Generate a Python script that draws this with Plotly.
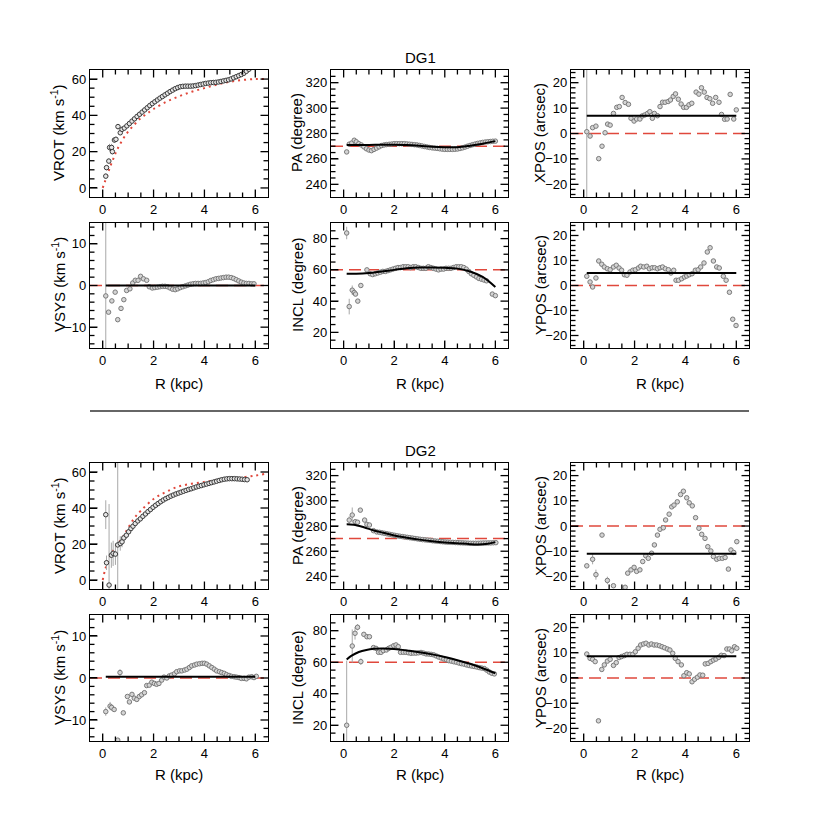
import plotly.graph_objects as go

# ---------------- DG1 ----------------
r_vrot1 = [0.12, 0.15, 0.24, 0.27, 0.35, 0.38, 0.46, 0.52, 0.60, 0.69, 0.76,
           0.85, 0.95, 1.05, 1.15, 1.25, 1.35, 1.45, 1.55, 1.65, 1.75, 1.85, 1.95,
           2.05, 2.15, 2.25, 2.35, 2.45, 2.55, 2.65, 2.75, 2.85, 2.95, 3.05, 3.15,
           3.25, 3.35, 3.45, 3.55, 3.65, 3.75, 3.85, 3.95, 4.05, 4.15, 4.25, 4.35,
           4.45, 4.55, 4.65, 4.75, 4.85, 4.95, 5.05, 5.15, 5.25, 5.35, 5.45, 5.55,
           5.65, 5.75, 5.85, 5.95]
v_vrot1 = [6.5, 11.2, 14.8, 22.3, 22.3, 20.0, 26.4, 26.8, 33.8, 30.4, 32.3,
           33.0, 34.2, 35.5, 36.8, 38.1, 39.4, 40.6, 41.8, 43.0, 44.2, 45.4, 46.5,
           47.5, 48.5, 49.5, 50.4, 51.3, 52.2, 53.1, 53.9, 54.7, 55.3, 55.8, 56.0,
           56.1, 56.1, 56.1, 56.2, 56.4, 56.7, 57.0, 57.3, 57.6, 57.8, 58.0, 58.1,
           58.2, 58.4, 58.7, 59.0, 59.3, 59.6, 60.1, 60.7, 61.3, 61.9, 62.5, 63.2,
           64.3, 65.4, 66.5, 67.5]
e_vrot1 = [1.5, 1.5, 1.5, 2.0, 2.0, 1.5, 1.5, 1.5, 1.5, 1.0, 1.0]
r_model1 = [0, 0.1, 0.2, 0.3, 0.4, 0.5, 0.6, 0.8, 1.0, 1.25, 1.5, 1.75, 2.0,
            2.5, 3.0, 3.5, 4.0, 4.5, 5.0, 5.5, 6.0, 6.4]
v_model1 = [0, 4, 8, 12, 15.5, 19, 22, 27, 31, 35, 38.5, 41, 43.5,
            47.5, 50.5, 53, 55, 57, 58.5, 59.5, 60, 60]

r_pa1 = [0.12, 0.22, 0.32, 0.42, 0.50, 0.60, 0.70, 0.80, 0.90, 1.00, 1.10, 1.20,
         1.30, 1.40, 1.50, 1.60, 1.70, 1.80, 1.90, 2.00, 2.10, 2.20, 2.30, 2.40,
         2.50, 2.60, 2.70, 2.80, 2.90, 3.00, 3.10, 3.20, 3.30, 3.40, 3.50, 3.60,
         3.70, 3.80, 3.90, 4.00, 4.10, 4.20, 4.30, 4.40, 4.50, 4.60, 4.70, 4.80,
         4.90, 5.00, 5.10, 5.20, 5.30, 5.40, 5.50, 5.60, 5.70, 5.80, 5.90, 6.00]
v_pa1 = [265.5, 271.6, 272.5, 274.7, 273.5, 272.0, 271.0, 269.5, 268.0, 267.0,
         266.5, 267.5, 268.5, 269.5, 270.5, 271.0, 271.3, 271.5, 271.7, 272.0,
         272.0, 272.0, 272.0, 272.0, 271.8, 271.6, 271.4, 271.2, 271.0, 270.6,
         270.2, 269.8, 269.4, 269.0, 268.7, 268.5, 268.3, 268.0, 267.7, 267.5,
         267.5, 267.5, 267.5, 267.6, 267.8, 268.2, 268.7, 269.3, 270.0, 270.6,
         271.2, 271.7, 272.2, 272.6, 273.0, 273.3, 273.5, 273.7, 273.9, 274.0]
e_pa1 = [1.5, 1.0]
r_pa1_fit = [0.12, 0.5, 1.0, 1.5, 2.0, 2.5, 3.0, 3.5, 4.0, 4.5, 5.0, 5.5, 6.0]
v_pa1_fit = [271, 271, 271, 271.2, 271.2, 271, 270.4, 269.6, 269.2, 269.2, 270.4, 272, 274]

r_xpos1 = [0.12, 0.25, 0.35, 0.48, 0.59, 0.72, 0.84, 0.94, 1.04, 1.17, 1.30, 1.40,
           1.51, 1.63, 1.76, 1.86, 1.98, 2.08, 2.21, 2.30, 2.40, 2.51, 2.60, 2.70,
           2.78, 2.90, 3.00, 3.10, 3.20, 3.32, 3.41, 3.52, 3.61, 3.72, 3.83, 3.93,
           4.04, 4.14, 4.25, 4.42, 4.53, 4.63, 4.74, 4.85, 4.96, 5.07, 5.19, 5.32,
           5.42, 5.54, 5.64, 5.76, 5.90, 6.00]
v_xpos1 = [0.7, -1.0, 2.3, 2.9, -9.9, -5.0, 0.3, 3.7, 3.3, 7.9, 10.3, 10.6,
           14.2, 12.2, 11.5, 6.0, 4.9, 5.7, 5.7, 6.9, 7.3, 7.9, 8.6, 6.0,
           7.9, 7.0, 10.6, 12.3, 12.3, 12.6, 13.2, 14.6, 15.6, 13.5, 11.6, 10.3,
           10.3, 11.3, 11.9, 16.3, 15.5, 18.0, 16.3, 14.2, 13.7, 11.9, 14.2, 12.3,
           7.5, 5.6, 5.7, 15.4, 5.7, 9.3]
e_xpos1 = [40]
xpos1_fit = 7.0

r_vsys1 = [0.12, 0.23, 0.36, 0.49, 0.59, 0.72, 0.83, 0.94, 1.07, 1.18, 1.28, 1.39,
           1.49, 1.60, 1.73, 1.83, 1.95, 2.05, 2.15, 2.25, 2.35, 2.45, 2.55, 2.65,
           2.75, 2.85, 2.95, 3.05, 3.15, 3.25, 3.35, 3.45, 3.55, 3.65, 3.75, 3.85,
           3.95, 4.05, 4.15, 4.25, 4.35, 4.45, 4.55, 4.65, 4.75, 4.85, 4.95, 5.05,
           5.15, 5.25, 5.35, 5.45, 5.55, 5.65, 5.75, 5.85, 5.95]
v_vsys1 = [-2.5, -6.4, -3.7, -1.6, -8.2, -5.5, -3.4, -1.2, -0.8, 0.6, 1.25, 1.25,
           2.2, 1.6, 1.25, -0.3, -0.6, -0.5, -0.4, -0.3, -0.2, -0.2, -0.3, -0.6,
           -0.9, -1.0, -0.8, -0.5, -0.3, -0.1, 0.1, 0.3, 0.4, 0.5, 0.5, 0.5,
           0.6, 0.7, 0.9, 1.2, 1.4, 1.6, 1.7, 1.8, 1.9, 2.0, 2.0, 1.9,
           1.7, 1.4, 1.1, 0.8, 0.6, 0.5, 0.5, 0.4, 0.4]
e_vsys1 = [25]
vsys1_fit = 0.0

r_incl1 = [0.12, 0.22, 0.34, 0.42, 0.47, 0.56, 0.68, 0.92,
           1.05, 1.15, 1.25, 1.35, 1.45, 1.55, 1.65, 1.75, 1.85, 1.95, 2.05, 2.15,
           2.25, 2.35, 2.45, 2.55, 2.65, 2.75, 2.85, 2.95, 3.05, 3.15, 3.25, 3.35,
           3.45, 3.55, 3.65, 3.75, 3.85, 3.95, 4.05, 4.15, 4.25, 4.35, 4.45, 4.55,
           4.65, 4.75, 4.85, 4.95, 5.05, 5.15, 5.25, 5.35, 5.45, 5.55, 5.65, 5.88, 6.00]
v_incl1 = [83.6, 36.5, 47.0, 45.5, 44.5, 40.0, 50.0, 60.0,
           57.5, 57.0, 57.5, 58.0, 58.5, 59.0, 59.0, 59.5, 60.0, 60.5, 61.0, 61.5,
           61.5, 62.0, 62.0, 62.0, 61.5, 62.0, 62.0, 61.5, 61.0, 61.0, 61.0, 62.0,
           61.5, 61.0, 60.5, 60.0, 60.5, 60.5, 61.0, 61.0, 61.0, 61.5, 62.0, 62.0,
           62.0, 61.5, 60.5, 59.0, 57.5, 56.5, 55.5, 54.5, 54.0, 53.5, 53.0, 44.5, 43.5]
e_incl1 = [4, 5, 3, 2, 1, 1, 1]
r_incl1_fit = [0.12, 0.5, 1.0, 1.5, 2.0, 2.5, 3.0, 3.5, 4.0, 4.5, 5.0, 5.5, 6.0]
v_incl1_fit = [57.5, 57.5, 58, 59, 60, 61, 61.5, 61.5, 61.3, 60.8, 59, 55.5, 49]

r_ypos1 = [0.12, 0.25, 0.35, 0.48, 0.59, 0.71, 0.81, 0.93, 1.04, 1.17, 1.28, 1.39,
           1.49, 1.60, 1.70, 1.82, 1.93, 2.03, 2.15, 2.24, 2.36, 2.48, 2.58, 2.69,
           2.79, 2.90, 3.00, 3.10, 3.21, 3.33, 3.43, 3.54, 3.63, 3.73, 3.85, 3.96,
           4.05, 4.15, 4.26, 4.39, 4.50, 4.60, 4.73, 4.86, 4.97, 5.10, 5.23, 5.33,
           5.49, 5.60, 5.73, 5.86, 5.99]
v_ypos1 = [3.7, 1.4, -0.6, 3.0, 9.8, 8.5, 7.4, 6.7, 6.3, 7.4, 8.1, 7.0,
           6.1, 4.3, 4.1, 5.4, 6.1, 6.3, 7.0, 7.7, 7.4, 7.7, 6.7, 7.1,
           7.1, 6.7, 7.1, 7.4, 6.7, 6.3, 5.0, 6.1, 2.1, 2.1, 2.7, 3.4,
           3.8, 4.3, 4.7, 6.1, 6.3, 7.4, 9.0, 13.4, 15.1, 9.8, 7.4, 7.0,
           3.7, 2.1, -2.7, -13.5, -16.0]
ypos1_fit = 5.0

# ---------------- DG2 ----------------
r_vrot2 = [0.12, 0.15, 0.25, 0.34, 0.41, 0.50, 0.59, 0.69, 0.76, 0.83, 0.93, 1.02,
           1.11, 1.19, 1.28, 1.38, 1.48, 1.58, 1.68, 1.78, 1.88, 1.98, 2.08, 2.18,
           2.28, 2.38, 2.48, 2.58, 2.68, 2.78, 2.88, 2.98, 3.08, 3.18, 3.28, 3.38,
           3.48, 3.58, 3.68, 3.78, 3.88, 3.98, 4.08, 4.18, 4.28, 4.38, 4.48, 4.58,
           4.68, 4.78, 4.88, 4.98, 5.08, 5.18, 5.28, 5.38, 5.48, 5.58, 5.68]
v_vrot2 = [36.3, 9.6, -2.8, 13.8, 14.8, 14.4, 19.5, 20.3, 21.2, 23.4, 24.9, 26.8,
           28.6, 29.9, 31.4, 32.8, 34.0, 35.4, 36.7, 38.0, 39.2, 40.4, 41.5, 42.5,
           43.5, 44.4, 45.2, 45.9, 46.6, 47.2, 47.8, 48.3, 48.8, 49.3, 49.8, 50.3,
           50.7, 51.2, 51.7, 52.1, 52.5, 52.9, 53.3, 53.7, 54.1, 54.5, 54.9, 55.3,
           55.7, 56.0, 56.2, 56.3, 56.3, 56.3, 56.2, 56.1, 56.0, 55.8, 55.7]
e_vrot2 = [8, 4, 45, 7, 7, 6, 50, 4, 3, 2, 2, 1.5, 1.5, 1, 1]
r_model2 = [0, 0.1, 0.25, 0.5, 0.75, 1.0, 1.25, 1.5, 2.0, 2.5, 3.0, 3.5, 4.0,
            4.5, 5.0, 5.5, 6.0, 6.4]
v_model2 = [0, 6, 12, 18.5, 23, 29, 34.5, 38.5, 45, 49, 52, 53.5, 54.5,
            55.5, 56, 57, 58, 59]

r_pa2 = [0.22, 0.34, 0.46, 0.55, 0.66, 0.83, 0.92, 1.02, 1.18, 1.31,
         1.42, 1.52, 1.62, 1.72, 1.82, 1.92, 2.02, 2.12, 2.22, 2.32, 2.42, 2.52,
         2.62, 2.72, 2.82, 2.92, 3.02, 3.12, 3.22, 3.32, 3.42, 3.52, 3.62, 3.72,
         3.82, 3.92, 4.02, 4.12, 4.22, 4.32, 4.42, 4.52, 4.62, 4.72, 4.82, 4.92,
         5.02, 5.12, 5.22, 5.32, 5.42, 5.52, 5.62, 5.72, 5.82, 5.92, 6.02]
v_pa2 = [284.7, 288.7, 283.4, 283.0, 292.6, 284.7, 281.3, 280.8, 276.3, 275.3,
         275.0, 274.6, 274.2, 273.8, 273.4, 273.0, 272.6, 272.2, 271.9, 271.6,
         271.3, 271.0, 270.7, 270.4, 270.1, 269.8, 269.5, 269.2, 269.0, 268.8,
         268.6, 268.3, 268.1, 267.9, 267.7, 267.5, 267.3, 267.2, 267.1, 267.0,
         266.9, 266.8, 266.7, 266.6, 266.5, 266.4, 266.3, 266.3, 266.3, 266.3,
         266.4, 266.5, 266.5, 266.6, 266.6, 266.7, 266.8]
e_pa2 = [3, 6, 2, 1.5, 1, 1, 1]
r_pa2_fit = [0.12, 0.4, 0.8, 1.2, 1.6, 2.0, 2.5, 3.0, 3.5, 4.0, 4.5, 5.0, 5.3, 5.7, 6.0]
v_pa2_fit = [281.3, 281, 279, 276.5, 274.5, 272.5, 270.7, 269.2, 268, 267, 266.3,
             265.6, 265.4, 266, 267.2]

r_xpos2 = [0.12, 0.35, 0.48, 0.72, 0.93, 1.17, 1.63, 1.73, 1.86, 1.98, 2.08, 2.21,
           2.32, 2.44, 2.54, 2.67, 2.78, 2.90, 3.00, 3.13, 3.22, 3.36, 3.46, 3.55,
           3.68, 3.81, 3.92, 4.05, 4.15, 4.27, 4.40, 4.53, 4.64, 4.77, 4.88, 5.00,
           5.10, 5.23, 5.33, 5.45, 5.56, 5.69, 5.79, 5.90, 6.02]
v_xpos2 = [-15.8, -13.2, -19.3, -3.6, -21.6, -23.7, -24.3, -18.7, -17.4, -16.4, -18.0, -17.4,
           -14.1, -11.8, -12.8, -10.8, -7.5, -3.6, -1.3, -0.7, 2.4, 4.7, 7.6, 8.3,
           9.6, 12.5, 13.8, 11.2, 9.2, 8.0, 3.3, -0.9, -3.3, -4.9, -8.2, -9.9,
           -12.1, -13.2, -12.8, -12.8, -12.5, -17.1, -9.5, -10.5, -6.2]
e_xpos2 = [0, 2, 2, 0, 1.5]
xpos2_fit = -11.0

r_vsys2 = [0.12, 0.29, 0.35, 0.45, 0.59, 0.68, 0.81, 0.97, 1.05, 1.15, 1.24, 1.34,
           1.44, 1.53, 1.64, 1.73, 1.83, 1.93, 2.03, 2.12, 2.21, 2.32, 2.41, 2.52,
           2.62, 2.71, 2.82, 2.91, 3.02, 3.11, 3.22, 3.31, 3.41, 3.50, 3.61, 3.70,
           3.81, 3.91, 4.00, 4.09, 4.19, 4.29, 4.39, 4.48, 4.59, 4.68, 4.78, 4.87,
           4.97, 5.06, 5.17, 5.26, 5.36, 5.45, 5.56, 5.65, 5.75, 5.86, 5.95, 6.04]
v_vsys2 = [-8.0, -6.7, -7.0, -7.5, -14.8, 1.3, -8.3, -4.4, -5.7, -3.9, -4.8, -5.1,
           -4.4, -4.0, -3.5, -1.8, -1.7, -1.0, -1.3, -1.5, -1.3, -0.5, 0.2, 0.0,
           0.5, 0.7, 1.0, 1.5, 1.7, 1.7, 1.9, 2.1, 2.5, 2.9, 3.1, 3.3,
           3.4, 3.5, 3.5, 3.3, 2.9, 2.5, 2.1, 1.7, 1.5, 1.3, 1.1, 0.8,
           0.6, 0.4, 0.3, 0.2, 0.1, -0.1, -0.1, -0.2, 0.2, 0.3, 0.1, 0.4]
e_vsys2 = [1, 1, 0.8, 0.5, 0, 0.8]
vsys2_fit = 0.3

r_incl2 = [0.12, 0.34, 0.45, 0.55, 0.68, 0.80, 0.92, 1.02, 1.18, 1.28, 1.38, 1.48,
           1.57, 1.69, 1.78, 1.87, 1.98, 2.07, 2.16, 2.25, 2.36,
           2.46, 2.56, 2.66, 2.76, 2.86, 2.96, 3.06, 3.16, 3.26, 3.36, 3.46, 3.56,
           3.66, 3.76, 3.86, 3.96, 4.06, 4.16, 4.26, 4.36, 4.46, 4.56, 4.66, 4.76,
           4.86, 4.96, 5.06, 5.16, 5.26, 5.36, 5.46, 5.56, 5.66, 5.76, 5.86, 5.96]
v_incl2 = [20.0, 70.3, 78.4, 82.2, 60.4, 77.7, 76.2, 76.2, 69.3, 68.8, 66.3, 66.3,
           67.4, 67.8, 68.8, 69.5, 70.5, 71.0, 69.9, 66.3, 66.3,
           66.3, 66.0, 65.7, 65.8, 65.8, 66.0, 66.2, 65.8, 65.3, 65.2, 65.0, 64.7,
           64.0, 63.3, 62.7, 62.1, 61.6, 61.0, 60.7, 60.3, 60.0, 59.5, 59.1, 58.8,
           58.3, 57.9, 57.6, 57.3, 57.0, 56.6, 56.3, 56.0, 55.0, 53.8, 53.0, 52.6]
e_incl2 = [41, 10.5, 4, 2, 2]
r_incl2_fit = [0.12, 0.3, 0.6, 0.9, 1.2, 1.5, 1.8, 2.2, 2.6, 3.0, 3.5, 4.0, 4.5,
               5.0, 5.5, 6.0]
v_incl2_fit = [61.8, 64, 66.5, 67.8, 68.5, 68.7, 68.6, 68.1, 67.3, 66.4, 65, 63.3,
               61.3, 59, 56.2, 53]

r_ypos2 = [0.12, 0.25, 0.35, 0.45, 0.58, 0.71, 0.81, 0.93, 1.04, 1.17, 1.28, 1.39,
           1.49, 1.60, 1.70, 1.82, 1.93, 2.03, 2.14, 2.24, 2.35, 2.45, 2.56, 2.66,
           2.77, 2.87, 2.98, 3.08, 3.18, 3.29, 3.39, 3.50, 3.60, 3.71, 3.84, 3.94,
           4.05, 4.15, 4.26, 4.36, 4.47, 4.57, 4.68, 4.78, 4.89, 5.00, 5.10, 5.20,
           5.31, 5.41, 5.52, 5.63, 5.73, 5.82, 5.93, 6.02]
v_ypos2 = [9.5, 7.8, 7.4, 6.5, -17.0, 3.4, 5.2, 6.7, 7.4, 5.0, 6.1, 8.1,
           8.5, 8.9, 9.4, 9.4, 9.4, 10.4, 11.8, 13.1, 13.5, 13.8, 13.1, 13.5,
           13.1, 13.1, 12.8, 12.4, 12.0, 11.5, 11.1, 9.8, 7.8, 6.5, 5.2, 0.9,
           2.1, 1.6, -1.5, -0.5, 0.3, 1.2, 1.1, 5.6, 5.8, 6.5, 7.1, 7.5,
           8.2, 9.0, 8.9, 11.5, 11.5, 10.8, 12.4, 11.8]
ypos2_fit = 8.6

fit_r_span = [0.12, 6.0]

# ---------------- layout helpers ----------------
FONT = "Liberation Sans, Arial, Helvetica, sans-serif"
RED = "#e0483c"
# the page body adds an 8px offset; margins compensate for it
ML, MT, MR, MB = 82, 62, 89, 97
PW, PH = 830 - ML - MR, 830 - MT - MB
COL_X = [(0.0, 0.2701), (0.3657, 0.6343), (0.7299, 1.0)]
ROW_Y = [(0.8107, 1.0), (0.5857, 0.7720), (0.2265, 0.4143), (0.0, 0.1878)]
X_RANGE = [-0.5, 6.5]

y_specs = {
    "VROT": ("VROT (km s<sup>-1</sup>)", [-5, 65], 20, 5),
    "PA": ("PA (degree)", [230, 330], 20, 5),
    "XPOS": ("XPOS (arcsec)", [-25, 25], 10, 2),
    "VSYS": ("VSYS (km s<sup>-1</sup>)", [-15, 15], 10, 2),
    "INCL": ("INCL (degree)", [10, 90], 20, 5),
    "YPOS": ("YPOS (arcsec)", [-25, 25], 10, 2),
}
grid = [["VROT", "PA", "XPOS"], ["VSYS", "INCL", "YPOS"],
        ["VROT", "PA", "XPOS"], ["VSYS", "INCL", "YPOS"]]

fig = go.Figure()
tick_shapes = []


def ax(k):
    return ("x", "y") if k == 1 else (f"x{k}", f"y{k}")


def add_points(k, r, v, err=None, edge="#7a7a7a", fill="#d4d4d4"):
    xa, ya = ax(k)
    e = list(err or []) + [0] * (len(v) - len(err or []))
    fig.add_trace(go.Scatter(
        x=r, y=v, mode="markers", xaxis=xa, yaxis=ya,
        marker=dict(symbol="circle", size=4.5, color=fill,
                    line=dict(color=edge, width=1)),
        error_y=dict(type="data", array=e, visible=bool(err),
                     color="#a8a8a8", thickness=1, width=0),
        showlegend=False, hoverinfo="skip",
    ))


def add_line(k, r, v, color="black", width=2, dash=None):
    xa, ya = ax(k)
    fig.add_trace(go.Scatter(
        x=r, y=v, mode="lines", xaxis=xa, yaxis=ya,
        line=dict(color=color, width=width, dash=dash, shape="spline"),
        showlegend=False, hoverinfo="skip",
    ))


def add_ref(k, val):
    xa, ya = ax(k)
    fig.add_shape(type="line", xref=f"{xa} domain", x0=0, x1=1,
                  yref=ya, y0=val, y1=val, layer="below",
                  line=dict(color=RED, width=1.5, dash="12px,6px"))


def steps(lo, hi, step):
    out = []
    n = int(lo // step) + 1
    while n * step < hi - 1e-9:
        out.append(n * step)
        n += 1
    return out


def add_ticks(k, row, col):
    """Inside ticks on all four sides as shapes (major 7px, minor 4px)."""
    xa, ya = ax(k)
    _, yr, dt, mdt = y_specs[grid[row][col]]
    w = (COL_X[col][1] - COL_X[col][0]) * PW
    h = (ROW_Y[row][1] - ROW_Y[row][0]) * PH
    style = dict(color="black", width=1.3)
    for p in steps(X_RANGE[0], X_RANGE[1], 0.5):
        f = (7.5 if abs(p / 2 - round(p / 2)) < 1e-9 else 4.5) / h
        for a, b in ((0, f), (1, 1 - f)):
            tick_shapes.append(dict(type="line", xref=xa, yref=f"{ya} domain",
                                    x0=p, x1=p, y0=a, y1=b, line=style))
    for q in steps(yr[0], yr[1], mdt):
        f = (7.5 if abs(q / dt - round(q / dt)) < 1e-9 else 4.5) / w
        for a, b in ((0, f), (1, 1 - f)):
            tick_shapes.append(dict(type="line", xref=f"{xa} domain", yref=ya,
                                    x0=a, x1=b, y0=q, y1=q, line=style))


# DG1
add_line(1, r_model1, v_model1, color=RED, width=2, dash="2px,4px")
add_points(1, r_vrot1, v_vrot1, e_vrot1, edge="#3a3a3a", fill="#e6e6e6")

add_ref(2, 270)
add_points(2, r_pa1, v_pa1, e_pa1)
add_line(2, r_pa1_fit, v_pa1_fit)

add_ref(3, 0)
add_points(3, r_xpos1, v_xpos1, e_xpos1)
add_line(3, fit_r_span, [xpos1_fit, xpos1_fit])

add_ref(4, 0)
add_points(4, r_vsys1, v_vsys1, e_vsys1)
add_line(4, fit_r_span, [vsys1_fit, vsys1_fit])

add_ref(5, 60)
add_points(5, r_incl1, v_incl1, e_incl1)
add_line(5, r_incl1_fit, v_incl1_fit)

add_ref(6, 0)
add_points(6, r_ypos1, v_ypos1)
add_line(6, fit_r_span, [ypos1_fit, ypos1_fit])

# DG2
add_line(7, r_model2, v_model2, color=RED, width=2, dash="2px,4px")
add_points(7, r_vrot2, v_vrot2, e_vrot2, edge="#3a3a3a", fill="#e6e6e6")

add_ref(8, 270)
add_points(8, r_pa2, v_pa2, e_pa2)
add_line(8, r_pa2_fit, v_pa2_fit)

add_ref(9, 0)
add_points(9, r_xpos2, v_xpos2, e_xpos2)
add_line(9, fit_r_span, [xpos2_fit, xpos2_fit])

add_ref(10, 0)
add_points(10, r_vsys2, v_vsys2, e_vsys2)
add_line(10, fit_r_span, [vsys2_fit, vsys2_fit])

add_ref(11, 60)
add_points(11, r_incl2, v_incl2, e_incl2)
add_line(11, r_incl2_fit, v_incl2_fit)

add_ref(12, 0)
add_points(12, r_ypos2, v_ypos2)
add_line(12, fit_r_span, [ypos2_fit, ypos2_fit])


def px(pix):
    return (pix - 8 - ML) / PW


def py(pix):
    return (830 - MB - (pix - 8)) / PH


common = dict(
    showline=True, linecolor="black", linewidth=1.2, mirror=True,
    ticks="inside", ticklen=7, tickwidth=1.2, tickcolor="black",
    showgrid=False, zeroline=False, automargin=False,
    tickfont=dict(family=FONT, size=13, color="black"),
)
title_font = dict(family=FONT, size=15, color="black")
ytitle_x = [58, 297, 540]
row_mid = [133, 285, 526, 678]
xtitle_y = {1: 383, 3: 775}
col_mid = [179, 420, 660]

layout_axes = {}
for row in range(4):
    for col in range(3):
        k = row * 3 + col + 1
        sfx = "" if k == 1 else str(k)
        title, yr, dt, mdt = y_specs[grid[row][col]]
        layout_axes[f"xaxis{sfx}"] = dict(
            common, domain=list(COL_X[col]), anchor=f"y{sfx}",
            range=X_RANGE, tick0=0, dtick=2,
        )
        layout_axes[f"yaxis{sfx}"] = dict(
            common, domain=list(ROW_Y[row]), anchor=f"x{sfx}",
            range=yr, tick0=0, dtick=dt,
        )
        add_ticks(k, row, col)
        fig.add_annotation(text=title, xref="paper", yref="paper",
                           x=px(ytitle_x[col]), y=py(row_mid[row]), textangle=-90,
                           xanchor="center", yanchor="middle", showarrow=False,
                           font=title_font)
        if row in xtitle_y:
            fig.add_annotation(text="R (kpc)", xref="paper", yref="paper",
                               x=px(col_mid[col]), y=py(xtitle_y[row]),
                               xanchor="center", yanchor="middle", showarrow=False,
                               font=title_font)

fig.update_layout(**layout_axes)

fig.add_annotation(text="DG1", xref="paper", yref="paper", x=px(420), y=py(58),
                   xanchor="center", yanchor="middle", showarrow=False,
                   font=title_font)
fig.add_annotation(text="DG2", xref="paper", yref="paper", x=px(420), y=py(450),
                   xanchor="center", yanchor="middle", showarrow=False,
                   font=title_font)
fig.add_shape(type="line", xref="paper", yref="paper", x0=0, x1=1,
              y0=py(411), y1=py(411), line=dict(color="#333333", width=1.3))
for s in tick_shapes:
    fig.add_shape(**s)

fig.update_layout(
    template="none",
    width=830, height=830,
    margin=dict(l=ML, r=MR, t=MT, b=MB),
    paper_bgcolor="white", plot_bgcolor="white",
    font=dict(family=FONT, color="black"),
    showlegend=False,
)

fig.write_html("out.html")
